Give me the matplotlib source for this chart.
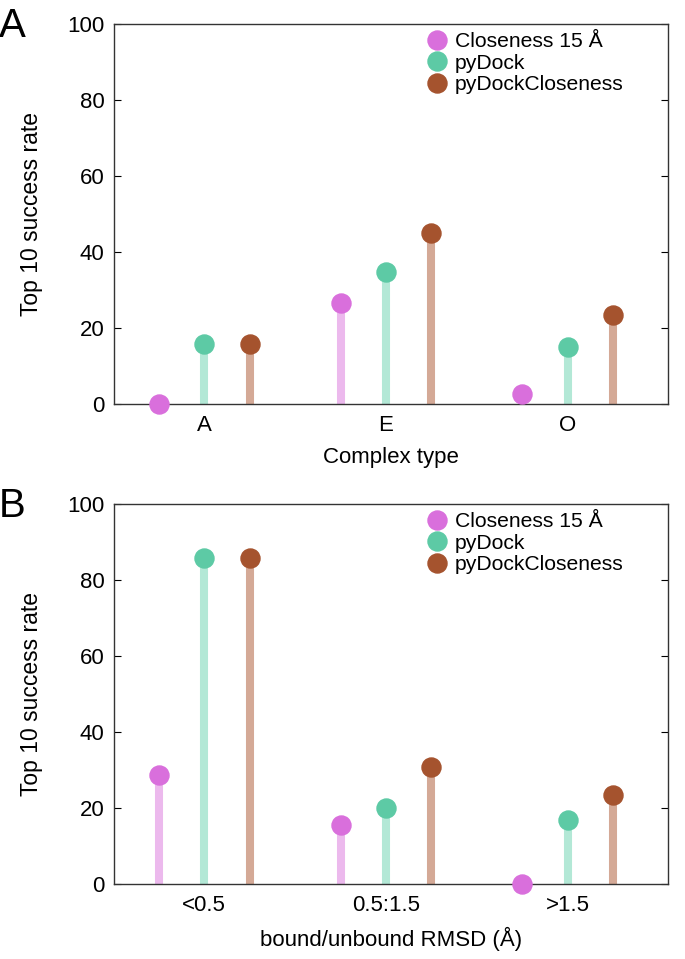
import matplotlib.pyplot as plt
import numpy as np

plt.rcParams['font.family'] = ['Liberation Sans', 'DejaVu Sans']

methods = ['Closeness 15 Å', 'pyDock', 'pyDockCloseness']
dot_colors = ['#d96fdc', '#5dcaa5', '#a5532e']
stem_colors = ['#ecb9ed', '#b3e8d6', '#d4a996']

# panel A
types_a = ['A', 'E', 'O']
closeness_a = [0.0, 26.6, 2.7]
pydock_a = [15.7, 34.7, 15.0]
pydockclos_a = [15.7, 44.9, 23.3]

# panel B
rmsd_b = ['<0.5', '0.5:1.5', '>1.5']
closeness_b = [28.7, 15.4, 0.0]
pydock_b = [85.7, 20.1, 16.8]
pydockclos_b = [85.7, 30.7, 23.4]

fig = plt.figure(figsize=(6.85, 9.59), dpi=100)
W, H = 685.0, 959.0


def panel(top, cats, series, xlabel, letter):
    ax = fig.add_axes([114 / W, 1 - (top + 380) / H, 554 / W, 380 / H])
    x = np.arange(len(cats))
    offs = [-0.25, 0.0, 0.25]
    for vals, off, dc, sc, name in zip(series, offs, dot_colors, stem_colors, methods):
        ax.vlines(x + off, 0, vals, colors=sc, linewidth=5.8, zorder=2)
        ax.plot(x + off, vals, 'o', color=dc, markersize=13.7, label=name,
                zorder=3, clip_on=False)
    ax.set_xlim(-0.495, 2.55)
    ax.set_ylim(0, 100)
    ax.set_yticks([0, 20, 40, 60, 80, 100])
    ax.set_xticks(x)
    ax.set_xticklabels(cats)
    ax.tick_params(axis='y', direction='in', right=True, length=5, labelsize=16, pad=7)
    ax.tick_params(axis='x', length=0, labelsize=16, pad=8)
    ax.set_ylabel('Top 10 success rate', fontsize=16.5)
    ax.yaxis.set_label_coords(-71 / 554, 0.5)
    ax.set_xlabel(xlabel, fontsize=16)
    ax.xaxis.set_label_coords(0.5, -43 / 380)
    for s in ax.spines.values():
        s.set_linewidth(1.0)
        s.set_color('#333333')
    ax.legend(loc='upper left', frameon=False, fontsize=15.2, handletextpad=0.25,
              labelspacing=0.13, borderaxespad=0, borderpad=0, handlelength=1.2,
              bbox_to_anchor=((424 - 114) / 554, 1 - 8 / 380))
    fig.text(-1 / W, 1 - (top - 17) / H, letter, fontsize=29, va='top', ha='left')
    return ax


panel(24, types_a, [closeness_a, pydock_a, pydockclos_a], 'Complex type', 'A')
panel(504, rmsd_b, [closeness_b, pydock_b, pydockclos_b],
      'bound/unbound RMSD (Å)', 'B')

fig.savefig('out.png', dpi=100)
